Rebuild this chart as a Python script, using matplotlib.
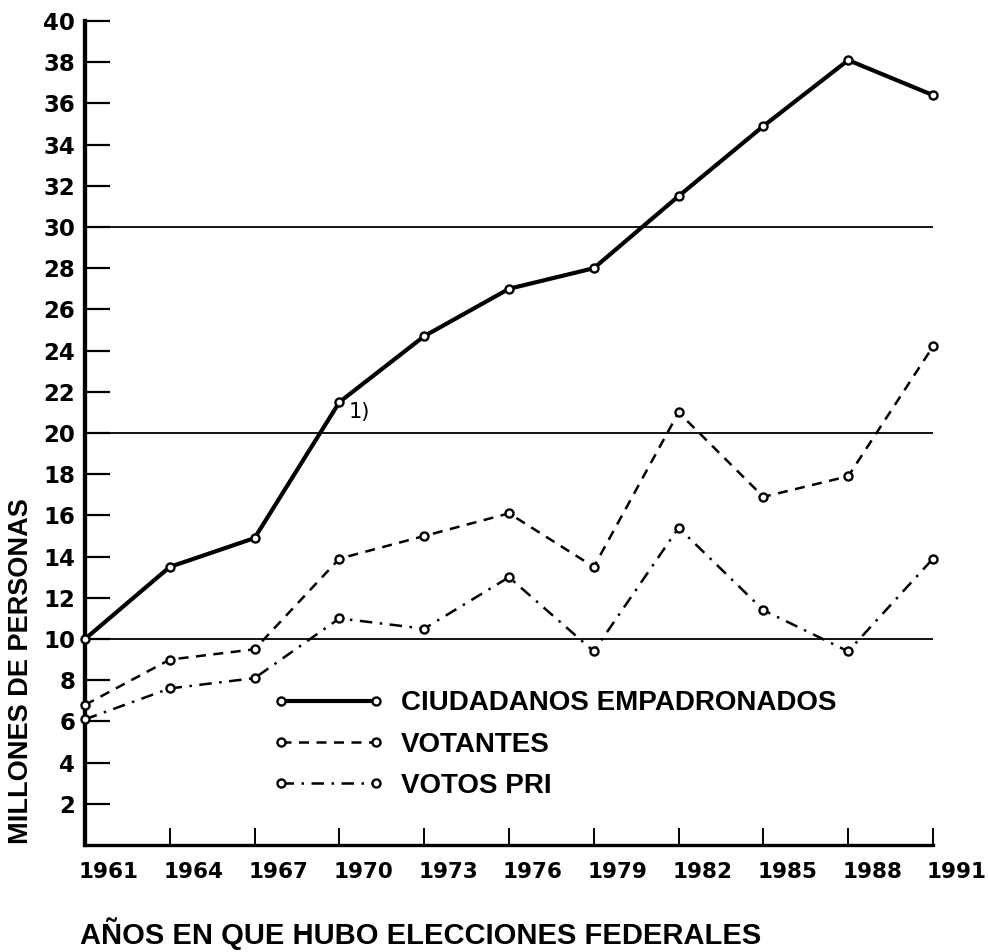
import matplotlib
matplotlib.use("Agg")
import matplotlib.pyplot as plt
from matplotlib.transforms import ScaledTranslation

# data (millions of people)
years = [1961, 1964, 1967, 1970, 1973, 1976, 1979, 1982, 1985, 1988, 1991]
ciudadanos = [10.0, 13.5, 14.9, 21.5, 24.7, 27.0, 28.0, 31.5, 34.9, 38.1, 36.4]
votantes = [6.8, 9.0, 9.5, 13.9, 15.0, 16.1, 13.5, 21.0, 16.9, 17.9, 24.2]
votos_pri = [6.1, 7.6, 8.1, 11.0, 10.5, 13.0, 9.4, 15.4, 11.4, 9.4, 13.9]
y_ticks = list(range(2, 41, 2))
grid_levels = [10, 20, 30]

series_names = ["CIUDADANOS EMPADRONADOS", "VOTANTES", "VOTOS PRI"]

fig = plt.figure(figsize=(9.88, 9.52), dpi=100)
ax = fig.add_axes([85 / 988, 107 / 952, 848 / 988, 824 / 952])

marker_kw = dict(marker="o", markersize=5.8, markerfacecolor="white",
                 markeredgecolor="black", markeredgewidth=1.7, clip_on=False)

ax.plot(years, ciudadanos, color="black", lw=3.0, ls="-",
        label=series_names[0], zorder=4, **marker_kw)
ax.plot(years, votantes, color="black", lw=1.8, ls=(0, (4, 3)),
        label=series_names[1], zorder=4, **marker_kw)
ax.plot(years, votos_pri, color="black", lw=1.8, ls=(0, (5, 3, 1, 3)),
        label=series_names[2], zorder=4, **marker_kw)

for lvl in grid_levels:
    ax.axhline(lvl, color="black", lw=1.3, zorder=1)

ax.set_xlim(1961, 1991)
ax.set_ylim(0, 40)

for side in ["top", "right"]:
    ax.spines[side].set_visible(False)
ax.spines["left"].set_linewidth(3.1)
ax.spines["bottom"].set_linewidth(2.4)

ax.set_yticks(y_ticks)
ax.set_yticklabels([str(v) for v in y_ticks], fontsize=16.5, fontweight="bold",
                   family="DejaVu Sans")
ax.tick_params(axis="y", direction="in", length=18, width=1.6, pad=7)

ax.set_xticks(years)
ax.set_xticklabels([str(y) for y in years], fontsize=15.5, fontweight="bold",
                   family="DejaVu Sans")
ax.tick_params(axis="x", direction="in", length=12, width=1.4, pad=12)
shift = ScaledTranslation(-0.06, 0, fig.dpi_scale_trans)
for lab in ax.get_xticklabels():
    lab.set_ha("left")
    lab.set_transform(lab.get_transform() + shift)

ax.set_ylabel("MILLONES DE PERSONAS", fontsize=19.5, fontweight="bold",
              family="Liberation Sans")
ax.yaxis.set_label_coords(-0.060, 0.211)
ax.set_xlabel("AÑOS EN QUE HUBO ELECCIONES FEDERALES", fontsize=21,
              fontweight="bold", family="Liberation Sans", ha="left", va="center")
ax.xaxis.set_label_coords(-0.006, -0.107)

ax.text(1970.7, 21.0, "1)", fontsize=15, ha="center", va="center")

leg = ax.legend(loc="upper left", bbox_to_anchor=(0.192, 0.218), frameon=False,
                numpoints=2, handlelength=4.0, handletextpad=0.6,
                labelspacing=0.55, prop={"family": "Liberation Sans",
                                         "weight": "bold", "size": 20})

fig.savefig("out.png", dpi=100)
